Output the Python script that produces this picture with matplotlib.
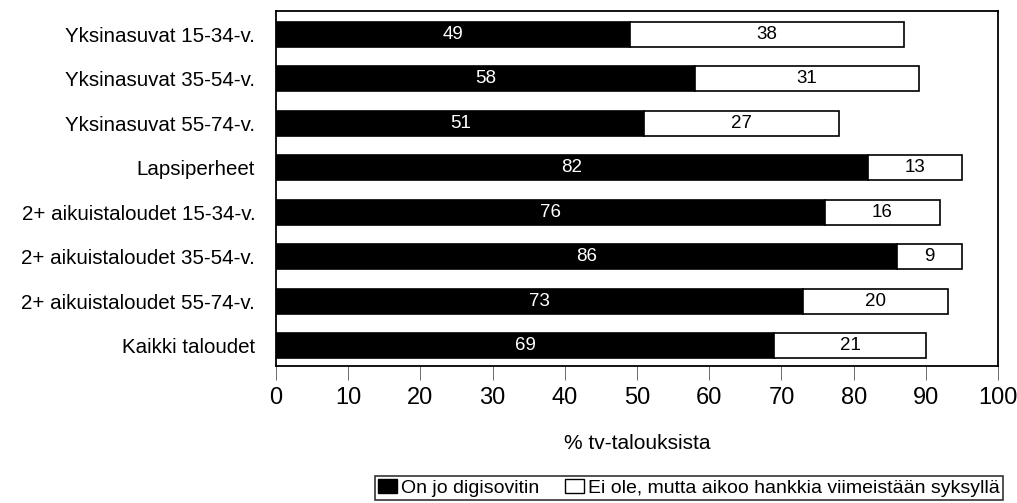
import matplotlib.pyplot as plt
from matplotlib.patches import Patch

plt.rcParams['font.family'] = ['Liberation Sans', 'DejaVu Sans']

categories = [
    "Yksinasuvat 15-34-v.",
    "Yksinasuvat 35-54-v.",
    "Yksinasuvat 55-74-v.",
    "Lapsiperheet",
    "2+ aikuistaloudet 15-34-v.",
    "2+ aikuistaloudet 35-54-v.",
    "2+ aikuistaloudet 55-74-v.",
    "Kaikki taloudet",
]
has_box = [49, 58, 51, 82, 76, 86, 73, 69]
plans_box = [38, 31, 27, 13, 16, 9, 20, 21]
series_names = ["On jo digisovitin", "Ei ole, mutta aikoo hankkia viimeistään syksyllä"]
x_ticks = [0, 10, 20, 30, 40, 50, 60, 70, 80, 90, 100]

fig = plt.figure(figsize=(10.17, 5.03), dpi=100)
ax = fig.add_axes([0.2714, 0.2724, 0.710, 0.7058])

y = list(range(len(categories)))
bar_h = 0.56
ax.barh(y, has_box, height=bar_h, color="black", edgecolor="black", linewidth=1.2)
ax.barh(y, plans_box, left=has_box, height=bar_h, color="white",
        edgecolor="black", linewidth=1.2)

for i in y:
    ax.text(has_box[i] / 2, i, str(has_box[i]), color="white",
            ha="center", va="center", fontsize=13.5)
    ax.text(has_box[i] + plans_box[i] / 2, i, str(plans_box[i]), color="black",
            ha="center", va="center", fontsize=13.5)

ax.set_xlim(0, 100)
ax.set_ylim(7.45, -0.52)
ax.set_yticks(y)
ax.set_yticklabels(categories, fontsize=14.8)
ax.tick_params(axis="y", length=0, pad=15)
ax.set_xticks(x_ticks)
ax.set_xticklabels([str(t) for t in x_ticks], fontsize=17)
ax.tick_params(axis="x", direction="out", length=10, width=0.6, color="#555555", pad=5)
for s in ax.spines.values():
    s.set_linewidth(1.3)
ax.set_xlabel("% tv-talouksista", fontsize=15, labelpad=18)

handles = [Patch(facecolor="black", edgecolor="black"),
           Patch(facecolor="white", edgecolor="black")]
leg = fig.legend(handles, series_names, loc="center", ncol=2,
                 bbox_to_anchor=(0.6775, 0.0298), fontsize=14, frameon=True,
                 fancybox=False, edgecolor="black", handlelength=1.0,
                 handleheight=0.7, handletextpad=0.2, columnspacing=1.3,
                 borderpad=0.15, borderaxespad=0)
leg.get_frame().set_linewidth(1.2)

fig.savefig("out.png", dpi=100)
